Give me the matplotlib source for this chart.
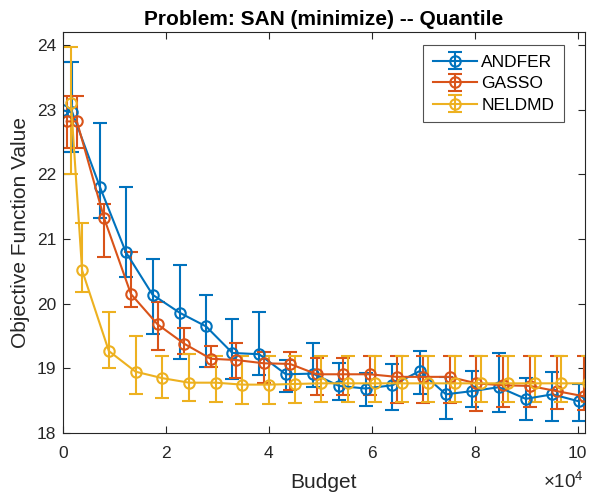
import matplotlib
matplotlib.use("Agg")
import matplotlib.pyplot as plt
import numpy as np

# ---- data (budget, objective quantile, CI bounds) ----
andfer_x = [0, 1800, 7200, 12200, 17400, 22700, 27800, 32900, 38100, 43300, 48600,
            53600, 58800, 64000, 69300, 74400, 79500, 84700, 89900, 95100, 100300]
andfer_y = [22.99, 22.96, 21.80, 20.80, 20.14, 19.86, 19.65, 19.24, 19.22, 18.91, 18.92,
            18.73, 18.69, 18.74, 18.96, 18.60, 18.65, 18.71, 18.53, 18.60, 18.49]
andfer_hi = [23.74, 23.74, 22.80, 21.80, 20.69, 20.60, 20.13, 19.77, 19.88, 19.13, 19.40,
             19.08, 18.93, 19.07, 19.27, 18.87, 18.96, 19.24, 18.86, 18.94, 18.76]
andfer_lo = [22.34, 22.34, 21.33, 20.41, 19.54, 19.15, 19.03, 18.84, 18.90, 18.63, 18.72,
             18.51, 18.42, 18.35, 18.60, 18.22, 18.40, 18.33, 18.21, 18.19, 18.19]

gasso_x = [700, 2700, 8000, 13200, 18400, 23600, 28700, 33700, 39000, 44100, 49300,
           54400, 59600, 64800, 70000, 75100, 80300, 85500, 90700, 95900, 101200]
gasso_y = [22.82, 22.82, 21.32, 20.15, 19.68, 19.38, 19.15, 19.13, 19.08, 19.07, 18.91,
           18.91, 18.91, 18.87, 18.87, 18.87, 18.77, 18.74, 18.73, 18.65, 18.57]
gasso_hi = [23.22, 23.22, 21.55, 20.80, 20.02, 19.63, 19.35, 19.40, 19.25, 19.25, 19.16,
            19.16, 19.19, 19.19, 19.19, 19.19, 19.19, 19.19, 19.19, 19.19, 19.19]
gasso_lo = [22.41, 22.41, 20.72, 19.95, 19.28, 19.22, 19.03, 18.86, 18.77, 18.67, 18.59,
            18.59, 18.59, 18.46, 18.46, 18.46, 18.34, 18.40, 18.40, 18.37, 18.35]

neldmd_x = [1550, 3700, 8900, 14100, 19300, 24500, 29700, 34800, 40000, 45000, 50100,
            55400, 60600, 65800, 70900, 76100, 81300, 86500, 91700, 96800, 102000]
neldmd_y = [23.11, 20.52, 19.27, 18.95, 18.85, 18.78, 18.78, 18.75, 18.75, 18.76, 18.77,
            18.77, 18.77, 18.77, 18.77, 18.77, 18.77, 18.77, 18.77, 18.77, 18.77]
neldmd_hi = [23.97, 21.25, 19.88, 19.50, 19.19, 19.22, 19.20, 19.19, 19.19, 19.19, 19.19,
             19.19, 19.19, 19.19, 19.19, 19.19, 19.19, 19.19, 19.19, 19.19, 19.19]
neldmd_lo = [22.00, 20.18, 19.01, 18.60, 18.54, 18.50, 18.48, 18.45, 18.45, 18.46, 18.48,
             18.48, 18.48, 18.48, 18.48, 18.48, 18.48, 18.48, 18.48, 18.48, 18.48]

solvers = ["ANDFER", "GASSO", "NELDMD"]
colors = ["#0072BD", "#D95319", "#EDB120"]
xticks = [0, 20000, 40000, 60000, 80000, 100000]
xtick_labels = ["0", "2", "4", "6", "8", "10"]
yticks = [18, 19, 20, 21, 22, 23, 24]

plt.rcParams['font.family'] = ['Liberation Sans', 'DejaVu Sans']
plt.rcParams['mathtext.fontset'] = 'custom'
plt.rcParams['mathtext.rm'] = 'Liberation Sans'

fig = plt.figure(figsize=(5.89, 4.95), dpi=100)
ax = fig.add_axes([0.107, 0.125, 0.886, 0.81])

series = [(andfer_x, andfer_y, andfer_lo, andfer_hi),
          (gasso_x, gasso_y, gasso_lo, gasso_hi),
          (neldmd_x, neldmd_y, neldmd_lo, neldmd_hi)]

for (x, y, lo, hi), name, c in zip(series, solvers, colors):
    y = np.array(y); lo = np.array(lo); hi = np.array(hi)
    ax.errorbar(x, y, yerr=[y - lo, hi - y], color=c, marker='o', markersize=7.5,
                markerfacecolor='none', markeredgewidth=1.5, linewidth=1.5,
                elinewidth=1.5, capsize=5, capthick=1.5, label=name)

ax.set_xlim(0, 101400)
ax.set_ylim(18, 24.2)
ax.set_xticks(xticks)
ax.set_xticklabels(xtick_labels)
ax.set_yticks(yticks)

axcol = '#262626'
for s in ax.spines.values():
    s.set_color(axcol)
    s.set_linewidth(0.8)
ax.tick_params(direction='in', top=True, right=True, length=5, width=0.8,
               colors=axcol, labelsize=12.5, labelcolor=axcol)
ax.tick_params(axis='x', pad=9)
ax.tick_params(axis='y', pad=5)

fig.text(584 / 589, 1 - 482 / 495, r"$\times$10$^{4}$", ha='right', va='center',
         fontsize=13.5, color=axcol)

ax.set_xlabel("Budget", fontsize=15, color=axcol, labelpad=9)
ax.set_ylabel("Objective Function Value", fontsize=15, color=axcol, labelpad=5)
ax.set_title("Problem: SAN (minimize) -- Quantile", fontsize=15, fontweight='bold',
             color='black', pad=5)

leg = ax.legend(loc='upper right', bbox_to_anchor=(0.960, 0.9676), fontsize=12.5,
                handlelength=2.55, frameon=True, fancybox=False, borderpad=0.55,
                labelspacing=0.36, handletextpad=0.25, borderaxespad=0.0)
leg.get_frame().set_edgecolor(axcol)
leg.get_frame().set_linewidth(0.8)

fig.savefig("out.png", dpi=100)
